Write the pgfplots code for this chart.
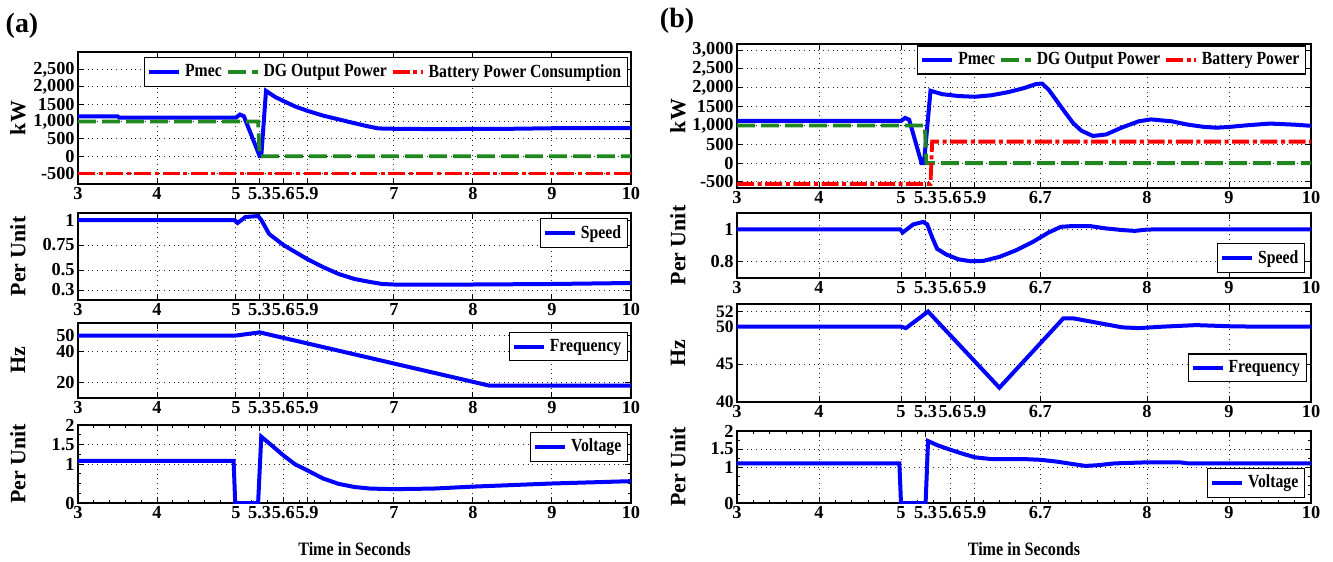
\documentclass[border=0pt]{standalone}
\usepackage{fontspec}
\setmainfont{Liberation Serif}[FakeStretch=0.85]
\newfontfamily\wideserif{Liberation Serif}
\usepackage{pgfplots}
\pgfplotsset{compat=1.18}
\definecolor{mgreen}{rgb}{0.13,0.53,0.13}
\pgfplotsset{
  base/.style={
    scale only axis, anchor=north west, xmin=3, xmax=10,
    grid=major, major grid style={dotted, black!85, line width=0.5pt},
    axis line style={black, line width=0.6pt},
    tick style={black, line width=0.5pt},
    major tick length=3bp, minor tick length=1.6bp, tick align=inside,
    ticklabel style={font=\wideserif\bfseries\fontsize{9.2}{10}\selectfont},
    xticklabel style={inner sep=1.5pt},
    yticklabel style={inner sep=1.5pt},
    legend style={font=\bfseries\fontsize{9.3}{10}\selectfont, draw=black, line width=0.6pt, inner sep=1.2bp, row sep=-1pt},
    legend cell align=left,
    legend image code/.code={\draw[##1] (0bp,0bp) -- (15bp,0bp);},
  },
  acol/.style={base, width=276.5bp, xtick={3,4,5,5.3,5.6,5.9,7,8,9,10}, xticklabels={3,4,5,5.3,5.6,5.9,7,8,9,10},
    every axis y label/.style={at={(axis description cs:-0.1085,0.5)}, rotate=90, anchor=center, font=\wideserif\bfseries\fontsize{11}{12}\selectfont}},
  bcol/.style={base, width=287bp, xtick={3,4,5,5.3,5.6,5.9,6.7,8,9,10}, xticklabels={3,4,5,5.3,5.6,5.9,6.7,8,9,10},
    every axis y label/.style={at={(axis description cs:-0.103,0.5)}, rotate=90, anchor=center, font=\wideserif\bfseries\fontsize{11}{12}\selectfont}},
  blu/.style={blue, line width=2bp},
  grn/.style={mgreen, line width=1.9bp, dash pattern=on 9bp off 3bp},
  rd/.style={red, line width=1.9bp, dash pattern=on 8.5bp off 1.8bp on 2bp off 1.8bp},
}
\begin{document}
\begin{tikzpicture}
\path[use as bounding box] (0,0) rectangle (666.5bp,-281bp);
\node[font=\wideserif\bfseries\fontsize{14}{15}\selectfont] at (11bp,-13bp) {(a)};
\node[font=\wideserif\bfseries\fontsize{14}{15}\selectfont] at (338.5bp,-10.5bp) {(b)};

% ---------- (a) power ----------
\begin{axis}[acol, at={(39bp,-26bp)}, height=66bp, ymin=-800, ymax=3000,
  ytick={-500,0,500,1000,1500,2000,2500}, yticklabels={-500,0,500,{1,000},1500,{2,000},{2,500}},
  ylabel={kW}, legend columns=3,
  legend style={at={(axis description cs:0.995,0.96)}, anchor=north east, /tikz/every even column/.append style={column sep=0bp}}]
\addplot[blu] coordinates {(3,1150)(3.5,1150)(3.52,1110)(5.0,1110)(5.05,1200)(5.1,1150)(5.3,0)(5.32,0)(5.38,1880)(5.5,1700)(5.6,1590)(5.75,1430)(5.9,1310)(6.1,1170)(6.3,1060)(6.5,950)(6.65,870)(6.8,800)(7.0,790)(7.5,780)(8,785)(8.5,790)(9,805)(10,805)};
\addlegendentry{Pmec}
\addplot[grn] coordinates {(3,1000)(5.28,1000)(5.3,0)(10,0)};
\addlegendentry{DG Output Power}
\addplot[rd] coordinates {(3,-500)(10,-500)};
\addlegendentry{Battery Power Consumption}
\end{axis}

% ---------- (a) speed ----------
\begin{axis}[acol, at={(39bp,-106.5bp)}, height=43.5bp, ymin=0.2, ymax=1.07,
  ytick={0.3,0.5,0.75,1}, yticklabels={0.3,0.5,0.75,1}, ylabel={Per Unit},
  legend style={at={(axis description cs:0.995,0.94)}, anchor=north east}]
\addplot[blu] coordinates {(3,1)(4.98,1)(5.02,0.97)(5.12,1.03)(5.28,1.04)(5.32,1.0)(5.42,0.86)(5.6,0.75)(5.9,0.61)(6.1,0.53)(6.3,0.46)(6.5,0.41)(6.7,0.38)(6.85,0.36)(7,0.355)(8,0.355)(9,0.36)(10,0.37)};
\addlegendentry{Speed}
\end{axis}

% ---------- (a) frequency ----------
\begin{axis}[acol, at={(39bp,-161.5bp)}, height=37.5bp, ymin=10, ymax=58,
  ytick={20,40,50}, yticklabels={20,40,50}, ylabel={Hz},
  legend style={at={(axis description cs:0.995,0.88)}, anchor=north east}]
\addplot[blu] coordinates {(3,50)(5.0,50)(5.3,52)(8.2,18)(10,18)};
\addlegendentry{Frequency}
\end{axis}

% ---------- (a) voltage ----------
\begin{axis}[acol, at={(39bp,-212.5bp)}, height=39bp, ymin=0, ymax=2,
  ytick={0,1,1.5,2}, yticklabels={0,1,1.5,2}, ylabel={Per Unit},
  minor xtick={3,3.2,...,10}, minor ytick={0.25,0.5,0.75,1.25,1.75},
  xlabel={Time in Seconds},
  xlabel style={font=\bfseries\fontsize{9.5}{10}\selectfont, at={(axis description cs:0.5,0)}, anchor=center, yshift=-23bp},
  legend style={at={(axis description cs:0.995,0.91)}, anchor=north east}]
\addplot[blu] coordinates {(3,1.08)(4.97,1.08)(4.99,0)(5.28,0)(5.32,1.7)(5.45,1.48)(5.6,1.22)(5.75,0.99)(5.9,0.84)(6.1,0.63)(6.3,0.49)(6.5,0.41)(6.7,0.37)(7,0.355)(7.5,0.37)(8,0.42)(8.5,0.46)(9,0.5)(9.5,0.53)(10,0.56)};
\addlegendentry{Voltage}
\end{axis}

% ---------- (b) power ----------
\begin{axis}[bcol, at={(368.5bp,-22bp)}, height=72bp, ymin=-660, ymax=3160,
  ytick={-500,0,500,1000,1500,2000,2500,3000}, yticklabels={-500,0,500,{1,000},1500,{2,000},{2,500},{3,000}},
  ylabel={kW}, legend columns=3,
  legend style={at={(axis description cs:0.992,0.99)}, anchor=north east, /tikz/every even column/.append style={column sep=0bp}}]
\addplot[blu] coordinates {(3,1120)(5.0,1120)(5.05,1200)(5.1,1150)(5.25,0)(5.28,0)(5.36,1920)(5.5,1830)(5.7,1780)(5.9,1760)(6.1,1800)(6.3,1880)(6.5,1990)(6.65,2100)(6.72,2110)(6.8,1950)(6.9,1650)(7.0,1350)(7.1,1060)(7.2,860)(7.34,720)(7.5,760)(7.7,950)(7.9,1110)(8.05,1160)(8.3,1110)(8.5,1020)(8.7,960)(8.85,940)(9.0,960)(9.2,1000)(9.5,1050)(9.8,1020)(10,990)};
\addlegendentry{Pmec}
\addplot[grn] coordinates {(3,1000)(5.29,1000)(5.31,0)(10,0)};
\addlegendentry{DG Output Power}
\addplot[rd] coordinates {(3,-550)(5.36,-550)(5.38,570)(10,570)};
\addlegendentry{Battery Power}
\end{axis}

% ---------- (b) speed ----------
\begin{axis}[bcol, at={(368.5bp,-106.5bp)}, height=32.5bp, ymin=0.7, ymax=1.1,
  ytick={0.8,1}, yticklabels={0.8,1}, ylabel={Per Unit},
  legend style={at={(axis description cs:0.99,0.077)}, anchor=south east}]
\addplot[blu] coordinates {(3,1)(4.99,1)(5.02,0.98)(5.15,1.03)(5.27,1.045)(5.32,1.03)(5.38,0.95)(5.44,0.88)(5.55,0.845)(5.7,0.815)(5.85,0.803)(6.0,0.805)(6.2,0.83)(6.4,0.87)(6.6,0.92)(6.8,0.98)(6.95,1.015)(7.1,1.02)(7.3,1.02)(7.5,1.005)(7.7,0.995)(7.85,0.99)(8.0,0.998)(8.2,1.0)(10,1.0)};
\addlegendentry{Speed}
\end{axis}

% ---------- (b) frequency ----------
\begin{axis}[bcol, at={(368.5bp,-152bp)}, height=49bp, ymin=40, ymax=53,
  ytick={40,45,50,52}, yticklabels={40,45,50,52}, ylabel={Hz},
  yticklabel style={inner ysep=0pt, inner xsep=1.5pt, font=\wideserif\bfseries\fontsize{8.8}{9}\selectfont},
  legend style={at={(axis description cs:0.993,0.2)}, anchor=south east}]
\addplot[blu] coordinates {(3,50)(5.0,50)(5.06,49.8)(5.33,52)(6.2,41.9)(6.98,51.1)(7.1,51.1)(7.4,50.5)(7.7,49.9)(7.9,49.8)(8.2,50)(8.6,50.2)(9.0,50.05)(9.3,50)(10,50)};
\addlegendentry{Frequency}
\end{axis}

% ---------- (b) voltage ----------
\begin{axis}[bcol, at={(368.5bp,-215.5bp)}, height=36bp, ymin=0, ymax=2,
  ytick={0,1,1.5,2}, yticklabels={0,1,1.5,2}, ylabel={Per Unit},
  minor xtick={3,3.2,...,10}, minor ytick={0.25,0.5,0.75,1.25,1.75},
  xlabel={Time in Seconds},
  xlabel style={font=\bfseries\fontsize{9.5}{10}\selectfont, at={(axis description cs:0.5,0)}, anchor=center, yshift=-23bp},
  legend style={at={(axis description cs:0.99,0.07)}, anchor=south east}]
\addplot[blu] coordinates {(3,1.1)(4.98,1.1)(5.0,0)(5.3,0)(5.33,1.72)(5.45,1.6)(5.6,1.48)(5.75,1.37)(5.9,1.27)(6.1,1.22)(6.5,1.22)(6.7,1.2)(6.9,1.15)(7.1,1.08)(7.25,1.03)(7.4,1.05)(7.6,1.1)(8.0,1.13)(8.4,1.13)(8.5,1.1)(10,1.1)};
\addlegendentry{Voltage}
\end{axis}
\end{tikzpicture}
\end{document}
